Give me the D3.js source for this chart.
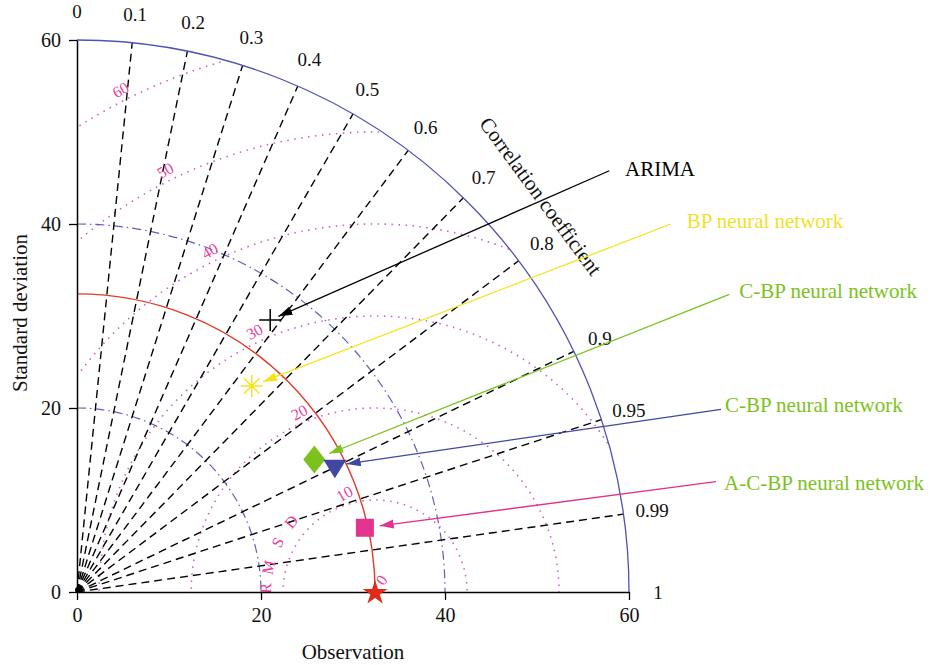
<!DOCTYPE html>
<html lang="en">
<head>
<meta charset="utf-8">
<title>Taylor diagram</title>
<style>
  body { margin: 0; background: #fff; }
  svg { font-family: "Liberation Serif", "DejaVu Serif", serif; }
</style>
</head>
<body>
<svg width="930" height="665"></svg>
<script src="https://d3js.org/d3.v7.min.js"></script>
<script>

// ---- data ----
const models = ["ARIMA", "BP neural network", "C-BP neural network", "C-BP neural network", "A-C-BP neural network"];
const stdDevs = [36.27, 29.36, 29.55, 31.21, 32.06];
const corrs = [0.579, 0.647, 0.873, 0.898, 0.976];
const shapes = ["cross", "asterisk", "diamond", "triangle", "square"];
const markColors = ["#000000", "#f6e21c", "#7cc21c", "#4347a3", "#e2338e"];
const labelColors = ["#000000", "#f2df2a", "#7cc21c", "#7cc21c", "#7cc21c"];
const obsStd = 32.4;

const stdTicks = [0, 20, 40, 60];
const stdArcs = [20, 40];
const corrTicks = [0, 0.1, 0.2, 0.3, 0.4, 0.5, 0.6, 0.7, 0.8, 0.9, 0.95, 0.99, 1];
const rmsdLevels = [0, 10, 20, 30, 40, 50, 60];
const rmsdWord = ["R", "M", "S", "D"];
const rmsdWordAngles = [178, 167, 153, 140];

// leader line start and label text position, in data units
const leaderAt = [[57.86, 45.79], [64.53, 40.0], [70.9, 32.36], [70.0, 19.86], [69.46, 11.99]];
const textAt = [[59.57, 45.2], [66.27, 39.57], [71.99, 31.96], [70.43, 19.6], [70.33, 11.09]];

const maxStd = 60;

const svg = d3.select("svg");
const x = d3.scaleLinear().domain([0, maxStd]).range([77, 629]);
const y = d3.scaleLinear().domain([0, maxStd]).range([592, 40]);
const r = d3.scaleLinear().domain([0, maxStd]).range([0, 552]);

const x0 = x(0), y0 = y(0);
const polar = (s, c) => [x(s * c), y(s * Math.sqrt(1 - c * c))];

// clip to the quarter disc
const defs = svg.append("defs");
defs.append("clipPath").attr("id", "quarter")
    .append("path")
    .attr("transform", `translate(${x0},${y0})`)
    .attr("d", d3.arc()({innerRadius: 0, outerRadius: r(maxStd), startAngle: 0, endAngle: Math.PI / 2}));

function quarterArc(rad, cx, cy) {
    const p = d3.path();
    p.arc(cx, cy, rad, -Math.PI / 2, 0);
    return p.toString();
}

// RMSD circles (pink dotted)
svg.append("g").attr("clip-path", "url(#quarter)")
    .selectAll("circle")
    .data(rmsdLevels.filter(d => d > 0))
    .join("circle")
    .attr("cx", x(obsStd)).attr("cy", y0)
    .attr("r", d => r(d))
    .attr("fill", "none")
    .attr("stroke", "#d65cc8")
    .attr("stroke-width", 1.6)
    .attr("stroke-dasharray", "1.5,5.5");

// std dev dash-dot arcs
svg.append("g").selectAll("path")
    .data(stdArcs)
    .join("path")
    .attr("d", d => quarterArc(r(d), x0, y0))
    .attr("fill", "none")
    .attr("stroke", "#5c5fbf")
    .attr("stroke-width", 1.2)
    .attr("stroke-dasharray", "9,4,1.5,4");

// correlation dashed rays
const rays = corrTicks.filter(c => c > 0 && c < 1);
svg.append("g").selectAll("line")
    .data(rays)
    .join("line")
    .attr("x1", x0).attr("y1", y0)
    .attr("x2", c => polar(maxStd, c)[0])
    .attr("y2", c => polar(maxStd, c)[1])
    .attr("stroke", "#000")
    .attr("stroke-width", 1.4)
    .attr("stroke-dasharray", "8,5");

// outer arc
svg.append("path")
    .attr("d", quarterArc(r(maxStd), x0, y0))
    .attr("fill", "none")
    .attr("stroke", "#4f52b3")
    .attr("stroke-width", 1.3);

// observation arc (red)
svg.append("path")
    .attr("d", quarterArc(r(obsStd), x0, y0))
    .attr("fill", "none")
    .attr("stroke", "#e23b28")
    .attr("stroke-width", 1.4);

// correlation labels
svg.append("g").selectAll("text")
    .data(corrTicks)
    .join("text")
    .attr("x", c => polar(63.15, c)[0])
    .attr("y", c => polar(63.15, c)[1])
    .attr("text-anchor", "middle")
    .attr("dy", "0.35em")
    .attr("font-size", 19)
    .attr("fill", "#111")
    .text(c => c);

svg.append("text")
    .attr("transform", "translate(541,196) rotate(53.6)")
    .attr("text-anchor", "middle")
    .attr("dy", "0.35em")
    .attr("font-size", 21)
    .attr("fill", "#111")
    .text("Correlation coefficient");

// RMSD labels along a straight guide through (35, 0)
const guideX = 35, guideAng = 119 * Math.PI / 180;
function guidePoint(R) {
    const ox = guideX - obsStd, dx = Math.cos(guideAng), dy = Math.sin(guideAng);
    const b = ox * dx;
    const t = -b + Math.sqrt(Math.max(0, b * b - (ox * ox - R * R)));
    return [guideX + t * dx, t * dy];
}
svg.append("g").selectAll("text")
    .data(rmsdLevels)
    .join("text")
    .attr("transform", d => {
        const p = d === 0 ? [obsStd + 0.7, 1.3] : guidePoint(d + 1.2);
        return `translate(${x(p[0])},${y(p[1])}) rotate(${d === 0 ? -55 : -29})`;
    })
    .attr("text-anchor", "middle")
    .attr("dy", "0.35em")
    .attr("font-size", 16)
    .attr("fill", "#e8409a")
    .text(d => d);

svg.append("g").selectAll("text")
    .data(rmsdWord)
    .join("text")
    .attr("transform", (d, i) => {
        const a = rmsdWordAngles[i] * Math.PI / 180;
        const px = x(obsStd + 11.9 * Math.cos(a)), py = y(11.9 * Math.sin(a));
        return `translate(${px},${py}) rotate(${-(rmsdWordAngles[i] - 90)})`;
    })
    .attr("text-anchor", "middle")
    .attr("dy", "0.35em")
    .attr("font-size", 16)
    .attr("fill", "#e8409a")
    .text(d => d);

// axes
const yAxis = svg.append("g")
    .attr("transform", `translate(${x0},0)`)
    .call(d3.axisLeft(y).tickValues(stdTicks).tickSize(8).tickSizeOuter(0).tickPadding(8));
const xAxis = svg.append("g")
    .attr("transform", `translate(0,${y0})`)
    .call(d3.axisBottom(x).tickValues(stdTicks).tickSize(8).tickSizeOuter(0).tickPadding(8));
[xAxis, yAxis].forEach(g => {
    g.attr("font-family", null).attr("font-size", 20);
    g.select(".domain").attr("stroke", "#000").attr("stroke-width", 1.5);
    g.selectAll(".tick line").attr("stroke", "#000").attr("stroke-width", 1.3);
    g.selectAll(".tick text").attr("fill", "#111");
});

svg.append("text")
    .attr("transform", "translate(20,313) rotate(-90)")
    .attr("text-anchor", "middle")
    .attr("dy", "0.35em")
    .attr("font-size", 21)
    .attr("fill", "#111")
    .text("Standard deviation");

svg.append("text")
    .attr("x", 353).attr("y", 652)
    .attr("text-anchor", "middle")
    .attr("dy", "0.35em")
    .attr("font-size", 21)
    .attr("fill", "#111")
    .text("Observation");

// arrowheads
markColors.forEach((col, i) => {
    defs.append("marker")
        .attr("id", "arrow" + i)
        .attr("markerUnits", "userSpaceOnUse")
        .attr("markerWidth", 15).attr("markerHeight", 10)
        .attr("refX", 14).attr("refY", 4.5)
        .attr("orient", "auto")
        .append("path")
        .attr("d", "M0,0L14,4.5L0,9Z")
        .attr("fill", col);
});

const tipGap = {cross: 9, asterisk: 12, diamond: 16, triangle: 12, square: 15};
const points = models.map((m, i) => {
    const p = polar(stdDevs[i], corrs[i]);
    return {name: m, i, px: p[0], py: p[1], shape: shapes[i]};
});

// leader lines
svg.append("g").selectAll("line")
    .data(points)
    .join("line")
    .each(function (d) {
        const sx = x(leaderAt[d.i][0]), sy = y(leaderAt[d.i][1]);
        const dx = sx - d.px, dy = sy - d.py, len = Math.hypot(dx, dy);
        const g = tipGap[d.shape];
        d3.select(this)
            .attr("x1", sx).attr("y1", sy)
            .attr("x2", d.px + dx / len * g).attr("y2", d.py + dy / len * g);
    })
    .attr("stroke", d => markColors[d.i])
    .attr("stroke-width", 1.3)
    .attr("marker-end", d => `url(#arrow${d.i})`);

svg.append("g").selectAll("text")
    .data(points)
    .join("text")
    .attr("x", d => x(textAt[d.i][0]))
    .attr("y", d => y(textAt[d.i][1]))
    .attr("font-size", 21)
    .attr("fill", d => labelColors[d.i])
    .text(d => d.name);

// markers
const shapePath = {
    cross: "M-11,0H11M0,-11V11",
    asterisk: "M-11,0H11M0,-11V11M-7.8,-7.8L7.8,7.8M-7.8,7.8L7.8,-7.8",
    diamond: "M0,-14L11,0L0,14L-11,0Z",
    triangle: "M-11.5,-6H11.5L0,12.5Z",
    square: "M-9,-9H9V9H-9Z"
};
svg.append("g").selectAll("path")
    .data(points)
    .join("path")
    .attr("transform", d => `translate(${d.px},${d.py})`)
    .attr("d", d => shapePath[d.shape])
    .attr("fill", d => (d.shape === "cross" || d.shape === "asterisk") ? "none" : markColors[d.i])
    .attr("stroke", d => markColors[d.i])
    .attr("stroke-width", d => (d.shape === "cross" || d.shape === "asterisk") ? 1.5 : 0);

// reference point (observation) and origin
svg.append("path")
    .attr("transform", `translate(${x(obsStd)},${y0 + 1})`)
    .attr("d", d3.symbol(d3.symbolStar, 190)())
    .attr("fill", "#e02a1a");
svg.append("circle")
    .attr("cx", x0 + 1).attr("cy", y0 - 2).attr("r", 3)
    .attr("fill", "#000");

</script>
</body>
</html>
